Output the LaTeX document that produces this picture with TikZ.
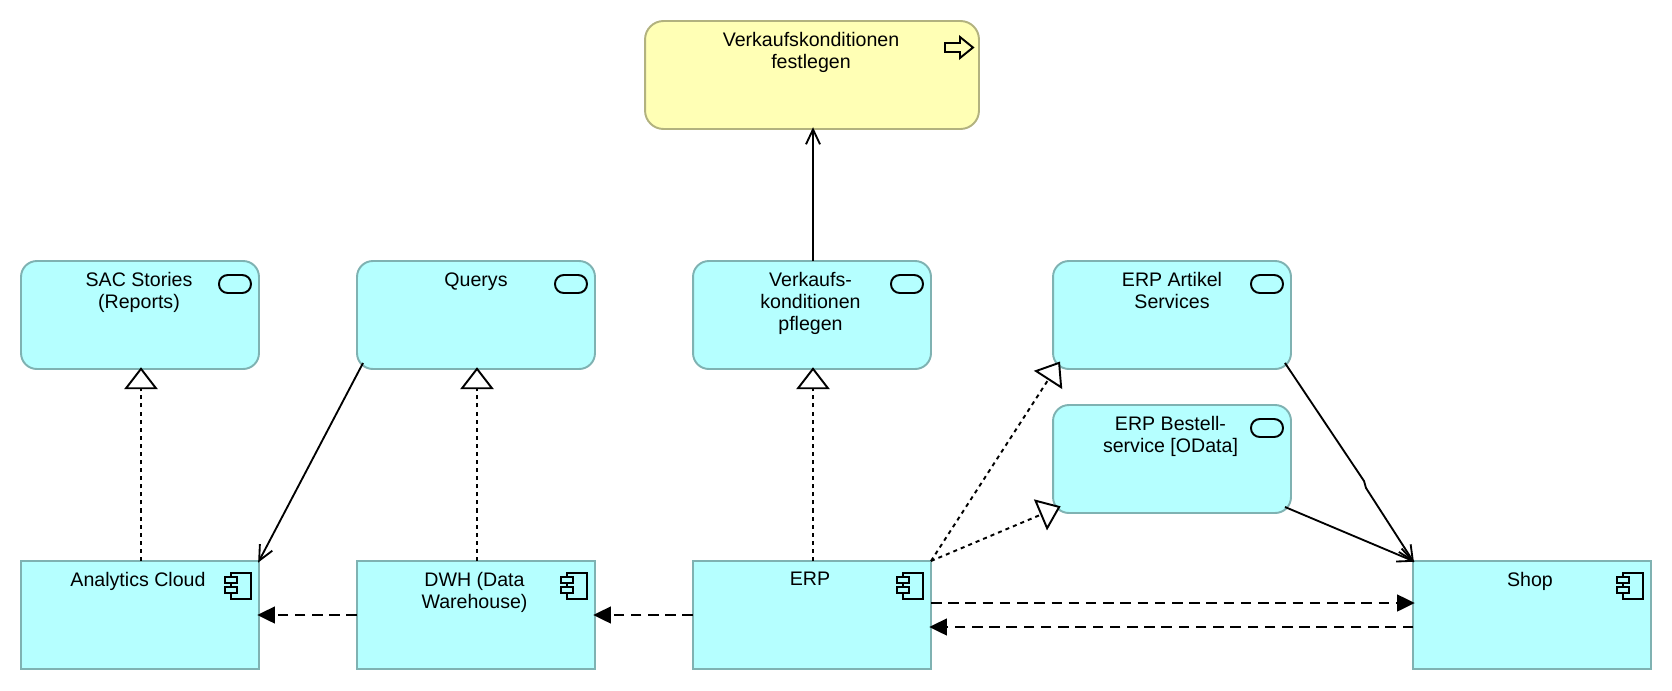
\documentclass[tikz,border=0pt]{standalone}
\usepackage{fontspec}
\setmainfont{Liberation Sans}
\usepackage{tikz}
\usetikzlibrary{arrows.meta, positioning}
\definecolor{AppFill}{RGB}{181,255,255}
\definecolor{AppLine}{RGB}{127,178,178}
\definecolor{BizFill}{RGB}{255,255,181}
\definecolor{BizLine}{RGB}{178,178,127}

\begin{document}
\begin{tikzpicture}[x=0.02cm, y=-0.02cm,
    appBox/.style={shape=rectangle, draw=AppLine, fill=AppFill, line width=1.1pt, minimum width=4.76cm, minimum height=2.16cm, inner sep=0pt, outer sep=0pt},
    appService/.style={appBox, rounded corners=9pt},
    bizProcess/.style={appBox, draw=BizLine, fill=BizFill, rounded corners=10.5pt, minimum width=6.68cm},
    boxText/.style={anchor=north, align=center, inner sep=0pt, font=\fontsize{11.15}{12.5}\selectfont},
    iconLine/.style={draw=black, line width=1.1pt},
    realizes/.style={line width=1.1pt, shorten >=-1pt, dash pattern=on 2.3pt off 2.3pt, -{Triangle[open, fill=white, length=12.5pt, width=19pt]}},
    serves/.style={line width=1.05pt, shorten >=-1pt, -{Straight Barb[length=8.5pt, width=8pt]}},
    flows/.style={line width=1.1pt, shorten >=-1pt, dash pattern=on 6pt off 3.8pt, -{Triangle[length=10pt, width=9.5pt]}}]
    \useasboundingbox (0,0) rectangle (1672,690);

    \node[bizProcess] (festlegen) at (812, 75) {};
    \node[appService] (sac)       at (140,315) {};
    \node[appService] (querys)    at (476,315) {};
    \node[appService] (pflegen)   at (812,315) {};
    \node[appService] (artikel)   at (1172,315) {};
    \node[appService] (bestell)   at (1172,459) {};
    \node[appBox]     (analytics) at (140,615) {};
    \node[appBox]     (dwh)       at (476,615) {};
    \node[appBox]     (erp)       at (812,615) {};
    \node[appBox]     (shop)      at (1532,615) {};

    \node[boxText] (festlegenText) at ([shift={(-1,11)}]festlegen.north) {Verkaufskonditionen\\festlegen};
    \node[boxText] (sacText)       at ([shift={(-1,11)}]sac.north)       {SAC Stories\\(Reports)};
    \node[boxText] (querysText)    at ([shift={(0,11)}]querys.north)     {Querys};
    \node[boxText] (pflegenText)   at ([shift={(-1.5,11)}]pflegen.north) {Verkaufs-\\konditionen\\pflegen};
    \node[boxText] (artikelText)   at ([shift={(0,11)}]artikel.north)    {ERP Artikel\\Services};
    \node[boxText] (bestellText)   at ([shift={(-1.5,11)}]bestell.north) {ERP Bestell-\\service [OData]};
    \node[boxText] (analyticsText) at ([shift={(-2,11)}]analytics.north) {Analytics Cloud};
    \node[boxText] (dwhText)       at ([shift={(-1.5,11)}]dwh.north)     {DWH (Data\\Warehouse)};
    \node[boxText] (erpText)       at ([shift={(-2,11)}]erp.north)       {ERP};
    \node[boxText] (shopText)      at ([shift={(-2,11)}]shop.north)      {Shop};

    \foreach \n in {sac, querys, pflegen, artikel, bestell}
        \draw[iconLine, rounded corners=5pt] ([shift={(-40,14)}]\n.north east) rectangle ([shift={(-8,32)}]\n.north east);
    \foreach \n in {analytics, dwh, erp, shop} {
        \draw[iconLine] ([shift={(-28,12)}]\n.north east) rectangle ([shift={(-8,38)}]\n.north east);
        \draw[iconLine, fill=AppFill] ([shift={(-34,16)}]\n.north east) rectangle ([shift={(-22,22)}]\n.north east);
        \draw[iconLine, fill=AppFill] ([shift={(-34,26)}]\n.north east) rectangle ([shift={(-22,32)}]\n.north east);
    }
    \draw[iconLine] ([shift={(-34,22)}]festlegen.north east) -- ++(15,0) -- ++(0,-6) -- ++(13,10.5) -- ++(-13,10.5) -- ++(0,-6) -- ++(-15,0) -- cycle;

    \coordinate (querysCorner)  at ([shift={(6,-6)}]querys.south west);
    \coordinate (artikelCorner) at ([shift={(6,-6)}]artikel.south west);
    \coordinate (artikelExit)   at ([shift={(-6,-6)}]artikel.south east);
    \coordinate (artikelBendA)  at (1364,481);
    \coordinate (artikelBendB)  at (1366,488);
    \coordinate (bestellCorner) at ([shift={(6,-6)}]bestell.south west);
    \coordinate (bestellExit)   at ([shift={(-6,-6)}]bestell.south east);

    \path[realizes] ([shift={(1,0)}]analytics.north) edge ([shift={(1,0)}]sac.south);
    \path[realizes] ([shift={(1,0)}]dwh.north) edge ([shift={(1,0)}]querys.south);
    \path[realizes] ([shift={(1,0)}]erp.north) edge ([shift={(1,0)}]pflegen.south);
    \path[realizes] (erp.north east) edge (artikelCorner);
    \path[realizes] (erp.north east) edge (bestellCorner);
    \path[serves]   ([shift={(1,0)}]pflegen.north) edge ([shift={(1,0)}]festlegen.south);
    \path[serves]   (querysCorner) edge (analytics.north east);
    \draw[serves]   (artikelExit) -- (artikelBendA) -- (artikelBendB) -- (shop.north west);
    \path[serves]   (bestellExit) edge (shop.north west);
    \path[flows]    (dwh) edge (analytics);
    \path[flows]    (erp) edge (dwh);
    \path[flows]    ([shift={(0,-12)}]erp.east) edge ([shift={(0,-12)}]shop.west);
    \path[flows]    ([shift={(0,12)}]shop.west) edge ([shift={(0,12)}]erp.east);
\end{tikzpicture}
\end{document}
